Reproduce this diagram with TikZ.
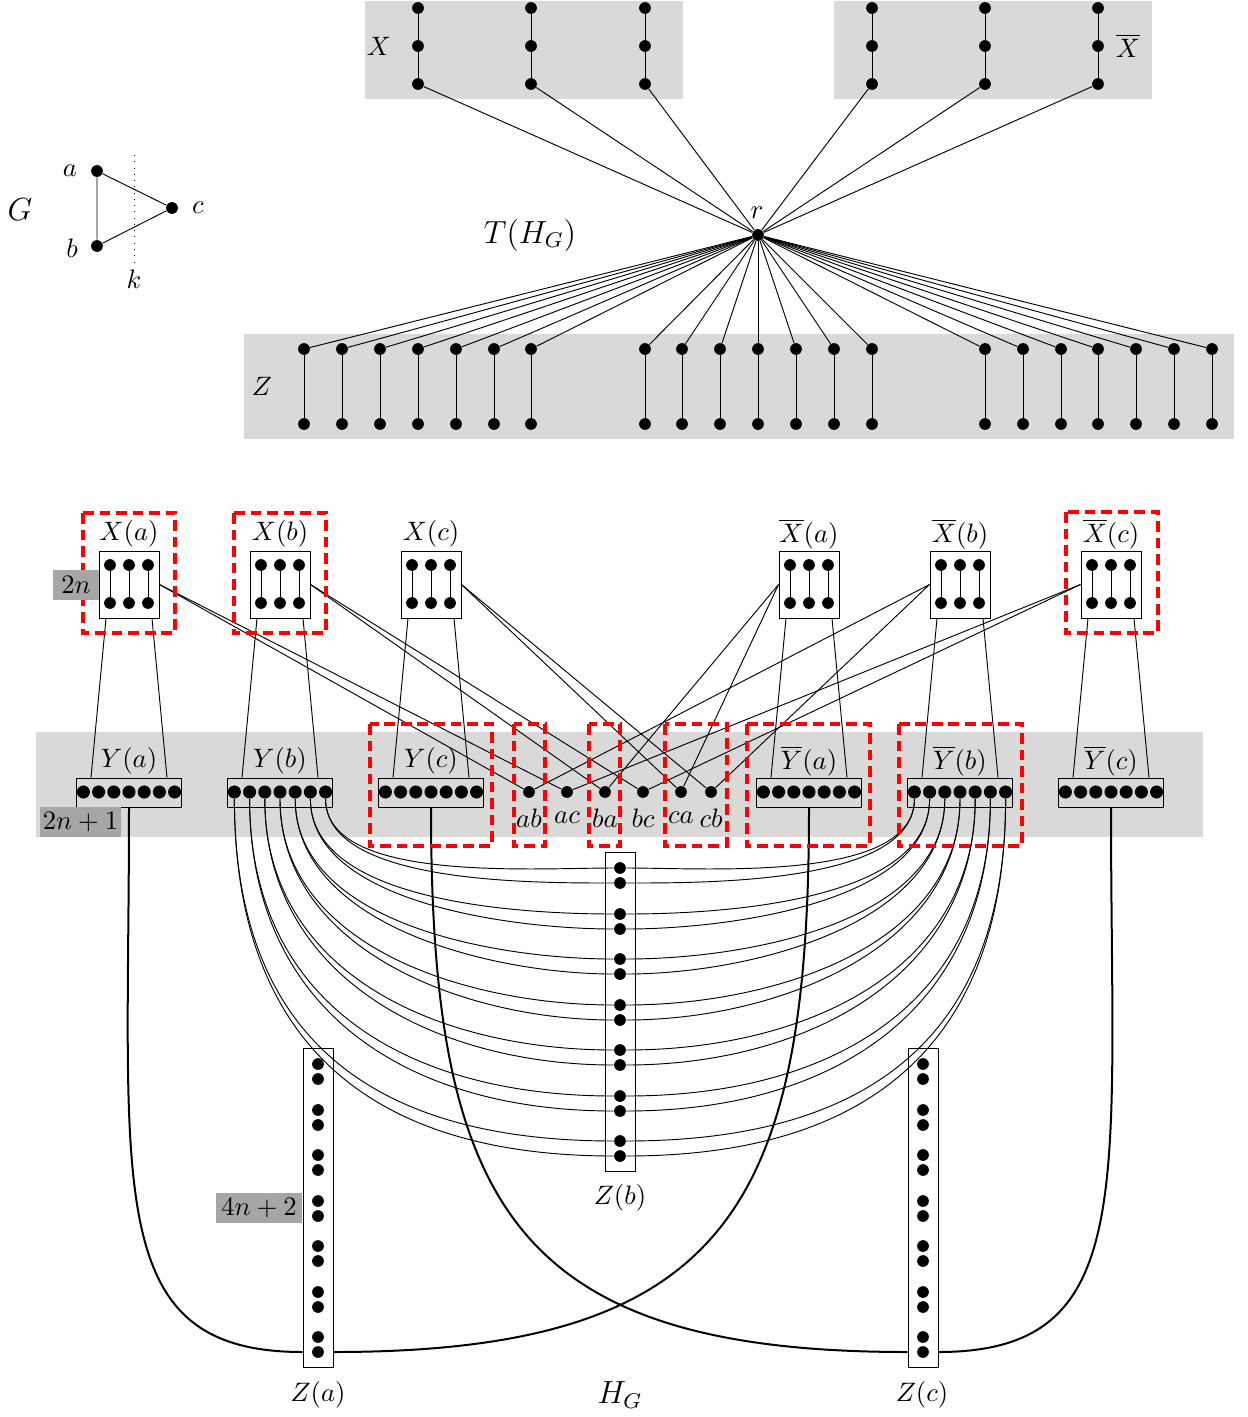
\documentclass[tikz,border=0pt]{standalone}
\usetikzlibrary{calc}
\begin{document}
\begin{tikzpicture}[x=0.375pt,y=-0.375pt,line width=0.35pt,
  dot/.style={circle,fill=black,inner sep=0pt,minimum size=4.4pt},
  ydot/.style={circle,fill=black,inner sep=0pt,minimum size=4.9pt},
  panel/.style={fill=black!15},
  cntlabel/.style={fill=black!35,inner sep=0pt,minimum height=11.25pt},
  redbox/.style={draw=red,line width=1.5pt,dash pattern=on 4pt off 2.2pt},
  xbox/.style={draw,fill=white,inner sep=0pt,minimum width=22.5pt,minimum height=25.1pt},
  ybox/.style={draw,inner sep=0pt,minimum width=39.4pt,minimum height=10.9pt},
  zbox/.style={draw,fill=white,inner sep=0pt,minimum width=11.25pt,minimum height=119.3pt},
  heavy/.style={line width=0.75pt},
  lbl/.style={inner sep=0pt},
]
\useasboundingbox (0,0) rectangle (1248,1417);

% ---------- top part: T(H_G)
\fill[panel] (365,1) rectangle (683,99);
\fill[panel] (834,1) rectangle (1152,99);
\fill[panel] (244,334) rectangle (1234,439);
\node[lbl] (lX) at (379,46) {$X$};
\node[lbl] (lXb) at (1128,46) {$\overline{X}$};
\node[lbl] (lZ) at (262,386) {$Z$};
\node[lbl] (lT) at (530,235) {\large $T(H_G)$};
\node[dot] (r) at (758,235) {};
\node[lbl] (lr) at (757,213) {$r$};
\foreach \x [count=\i] in {418,531,645,872,985,1098}{
  \node[dot] (xt\i) at (\x,8) {};
  \node[dot] (xm\i) at (\x,46) {};
  \node[dot] (xl\i) at (\x,84) {};
  \draw (xt\i) -- (xm\i) -- (xl\i);
  \draw (r) -- (xl\i);
}
\foreach \x [count=\i] in {304,342,380,418,456,494,531,645,682,720,758,796,834,872,985,1023,1061,1098,1136,1174,1212}{
  \node[dot] (zt\i) at (\x,349) {};
  \node[dot] (zl\i) at (\x,424) {};
  \draw (zt\i) -- (zl\i);
  \draw (r) -- (zt\i);
}

% ---------- graph G
\node[lbl] (lG) at (20,210) {\large $G$};
\node[dot] (ga) at (97,171) {};
\node[dot] (gb) at (97,246) {};
\node[dot] (gc) at (172,208) {};
\draw (ga) -- (gb) -- (gc) -- (ga);
\node[lbl] (la) at (70,171) {$a$};
\node[lbl] (lb) at (72,248) {$b$};
\node[lbl] (lc) at (198,208) {$c$};
\coordinate (k1) at (134,155);
\coordinate (k2) at (134,262);
\draw[dotted] (k1) -- (k2);
\node[lbl] (lk) at (134,279) {$k$};

% ---------- bottom part: H_G
\fill[panel] (36,732) rectangle (1203,837);

\foreach \nm/\x/\t in {Xa/129/{X(a)},Xb/280/{X(b)},Xc/431/{X(c)},Xba/809/{\overline{X}(a)},Xbb/960/{\overline{X}(b)},Xbc/1111/{\overline{X}(c)}}{
  \node[xbox] (\nm) at (\x,584.5) {};
  \node[lbl] (\nm-l) at (\x,534) {$\t$};
  \foreach \d [count=\k] in {-19,0,19}{
    \node[dot] (\nm u\k) at (\x+\d,565) {};
    \node[dot] (\nm d\k) at (\x+\d,603) {};
    \draw (\nm u\k) -- (\nm d\k);
  }
}

\foreach \nm/\x/\t in {Ya/129/{Y(a)},Yb/280/{Y(b)},Yc/431/{Y(c)},Yba/809/{\overline{Y}(a)},Ybb/960/{\overline{Y}(b)},Ybc/1111/{\overline{Y}(c)}}{
  \node[ybox] (\nm) at (\x,792.5) {};
  \node[lbl] (\nm-l) at (\x,761) {$\t$};
  \foreach \k in {1,...,7}{
    \node[ydot] (\nm\k) at (\x+15.2*\k-60.8,792) {};
  }
}

\foreach \nm/\x in {ab/529,ac/567,ba/605,bc/643,ca/681,cb/711}{
  \node[dot] (\nm) at (\x,792) {};
  \node[lbl] (\nm-l) at (\x,818) {$\nm$};
}

% X -> Y
\foreach \s in {a,b,c,ba,bb,bc}{
  \draw ($(X\s.south)+(-23,0)$) -- ($(Y\s.north)+(-38,0)$);
  \draw ($(X\s.south)+(23,0)$) -- ($(Y\s.north)+(38,0)$);
}
% X -> arc vertices
\draw (Xa.east) -- (ab);  \draw (Xa.east) -- (ac);
\draw (Xb.east) -- (ba);  \draw (Xb.east) -- (bc);
\draw (Xc.east) -- (ca);  \draw (Xc.east) -- (cb);
\draw (Xba.west) -- (ba); \draw (Xba.west) -- (ca);
\draw (Xbb.west) -- (ab); \draw (Xbb.west) -- (cb);
\draw (Xbc.west) -- (ac); \draw (Xbc.west) -- (bc);

% Z boxes
\node[zbox] (Za) at (318,1208) {};
\node[zbox] (Zb) at (620,1012) {};
\node[zbox] (Zc) at (923,1208) {};
\foreach \dy [count=\k] in {0,15,46,61,91,106,137,152,182,197,228,243,273,288}{
  \node[dot] (za\k) at (318,1064+\dy) {};
  \node[dot] (zb\k) at (620,868+\dy) {};
  \node[dot] (zc\k) at (923,1064+\dy) {};
}
\node[lbl] (Za-l) at (318,1395) {$Z(a)$};
\node[lbl] (Zb-l) at (620,1198) {$Z(b)$};
\node[lbl] (Zc-l) at (922,1395) {$Z(c)$};
\node[lbl] (HG) at (620,1395) {\large $H_G$};

% Y(b), Ybar(b) -> Z(b)
\foreach \i in {1,...,7}{
  \pgfmathtruncatemacro{\ja}{15-2*\i}
  \pgfmathtruncatemacro{\jb}{16-2*\i}
  \pgfmathtruncatemacro{\jc}{2*\i-1}
  \pgfmathtruncatemacro{\jd}{2*\i}
  \pgfmathsetmacro{\lsL}{1.2-0.08*(\i-1)}
  \pgfmathsetmacro{\lsR}{0.72+0.08*(\i-1)}
  \draw (Yb\i) to[out=-90,in=180,looseness=\lsL] (zb\ja);
  \draw (Yb\i) to[out=-90,in=180,looseness=\lsL] (zb\jb);
  \draw (Ybb\i) to[out=-90,in=0,looseness=\lsR] (zb\jc);
  \draw (Ybb\i) to[out=-90,in=0,looseness=\lsR] (zb\jd);
}

% Y -> Z(a), Z(c)
\draw[heavy] (Ya) to[out=-90,in=180,out looseness=1.7,in looseness=0.9] (Za.west |- za14);
\draw[heavy] (Yc) to[out=-90,in=180,looseness=1.4] (Zc.west |- zc14);
\draw[heavy] (Yba) to[out=-90,in=0,looseness=1.4] (Za.east |- za14);
\draw[heavy] (Ybc) to[out=-90,in=0,out looseness=1.7,in looseness=0.9] (Zc.east |- zc14);

% red dashed groups
\draw[redbox] (83,513) rectangle (175,633);
\draw[redbox] (234,513) rectangle (326,633);
\draw[redbox] (1066,512) rectangle (1158,633);
\draw[redbox] (370,724) rectangle (492,846);
\draw[redbox] (747,724) rectangle (870,846);
\draw[redbox] (899,724) rectangle (1022,846);
\draw[redbox] (514,724) rectangle (545,846);
\draw[redbox] (589,724) rectangle (620,846);
\draw[redbox] (665,724) rectangle (727,846);

% size labels
\node[cntlabel,minimum width=17.25pt] (c2n) at (76,585) {$2n$};
\node[cntlabel,minimum width=30.4pt] (c2n1) at (80.5,822) {$2n+1$};
\node[cntlabel,minimum width=32.25pt] (c4n2) at (259,1208) {$4n+2$};
\end{tikzpicture}
\end{document}
